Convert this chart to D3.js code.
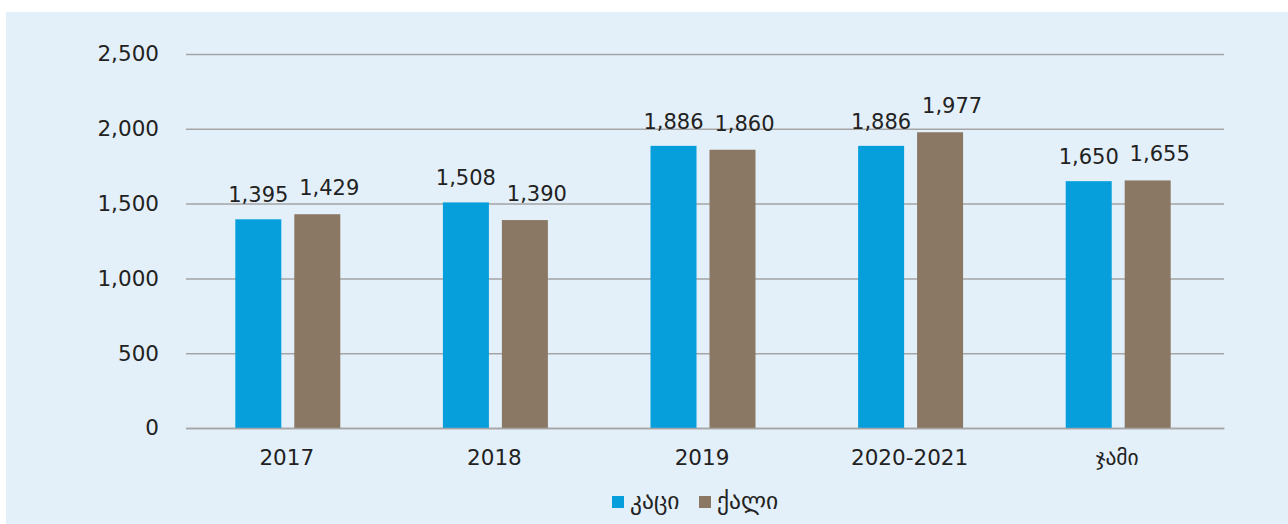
<!DOCTYPE html>
<html>
<head>
<meta charset="utf-8">
<script src="https://cdn.jsdelivr.net/npm/d3@7"></script>
<style>
  body { margin: 0; background: #fff; }
  text { font-family: "DejaVu Sans", sans-serif; fill: #222; }
</style>
</head>
<body>
<script>
var width = 1288, height = 524, fontSize = 21

var categories = ["2017", "2018", "2019", "2020-2021", "ჯამი"]
var seriesNames = ["კაცი", "ქალი"]
var men = [1395, 1508, 1886, 1886, 1650]
var women = [1429, 1390, 1860, 1977, 1655]
var yTicks = [0, 500, 1000, 1500, 2000, 2500]

var colors = ["#069fdc", "#8a7864"]

var svg = d3.select("body")
    .append("svg")
    .attr("width", width)
    .attr("height", height);

// panel
svg.append("rect")
    .attr("x", 6).attr("y", 12)
    .attr("width", width - 6).attr("height", height - 12)
    .attr("fill", "#e4f0f9");

var margin = {left: 186, right: 64, top: 54, bottom: 96}

var x = d3.scaleBand()
    .domain(categories)
    .range([margin.left, width - margin.right]);

var y = d3.scaleLinear()
    .domain([0, 2500])
    .range([height - margin.bottom, margin.top]);

var x1 = d3.scaleBand()
    .domain([0, 1])
    .range([-2, x.bandwidth() - 2])
    .paddingInner(0.22)
    .paddingOuter(0.87);

// grid
svg.append("g")
    .attr("transform", "translate(" + margin.left + ",0)")
    .call(d3.axisLeft(y).tickValues(yTicks).tickSize(-(width - margin.left - margin.right)).tickFormat(d3.format(",")))
    .call(function(g){
      g.select(".domain").remove();
      g.selectAll(".tick line").attr("stroke", "#a5a5a5").attr("stroke-width", 1.5);
      g.selectAll(".tick text").attr("x", -27).attr("font-size", fontSize + 0.5).attr("fill", "#222");
    });

var data = categories.map(function(c, i){ return {cat: c, vals: [men[i], women[i]]}; });

var groups = svg.selectAll("g.grp")
    .data(data)
  .enter().append("g")
    .attr("class", "grp")
    .attr("transform", function(d){ return "translate(" + x(d.cat) + ",0)"; });

groups.selectAll("rect")
    .data(function(d){ return d.vals; })
  .enter().append("rect")
    .attr("x", function(d, i){ return x1(i); })
    .attr("width", x1.bandwidth())
    .attr("y", function(d){ return y(d); })
    .attr("height", function(d){ return y(0) - y(d); })
    .attr("fill", function(d, i){ return colors[i]; });

// value labels, second series nudged right so neighbours do not touch
groups.selectAll("text.val")
    .data(function(d){ return d.vals; })
  .enter().append("text")
    .attr("class", "val")
    .attr("x", function(d, i){ return x1(i) + x1.bandwidth() / 2 + (i ? 12 : 0); })
    .attr("y", function(d, i){ return y(d) - (i ? 19 : 17); })
    .attr("text-anchor", "middle")
    .attr("font-size", fontSize)
    .text(function(d){ return d3.format(",")(d); });

// x axis
svg.append("g")
    .attr("transform", "translate(0," + y(0) + ")")
    .call(d3.axisBottom(x).tickSize(0).tickPadding(22))
    .call(function(g){
      g.select(".domain").attr("stroke", "#a5a5a5").attr("stroke-width", 1.5);
      g.selectAll(".tick text").attr("x", -3).attr("font-size", fontSize + 0.5).attr("fill", "#222");
    });

// legend
var legend = svg.append("g");
var lx = [612, 699];
seriesNames.forEach(function(n, i){
  legend.append("rect")
      .attr("x", lx[i]).attr("y", 496)
      .attr("width", 12).attr("height", 12)
      .attr("fill", colors[i]);
  legend.append("text")
      .attr("x", lx[i] + 18).attr("y", 509)
      .attr("font-size", 23.5)
      .text(n);
});
</script>
</body>
</html>
